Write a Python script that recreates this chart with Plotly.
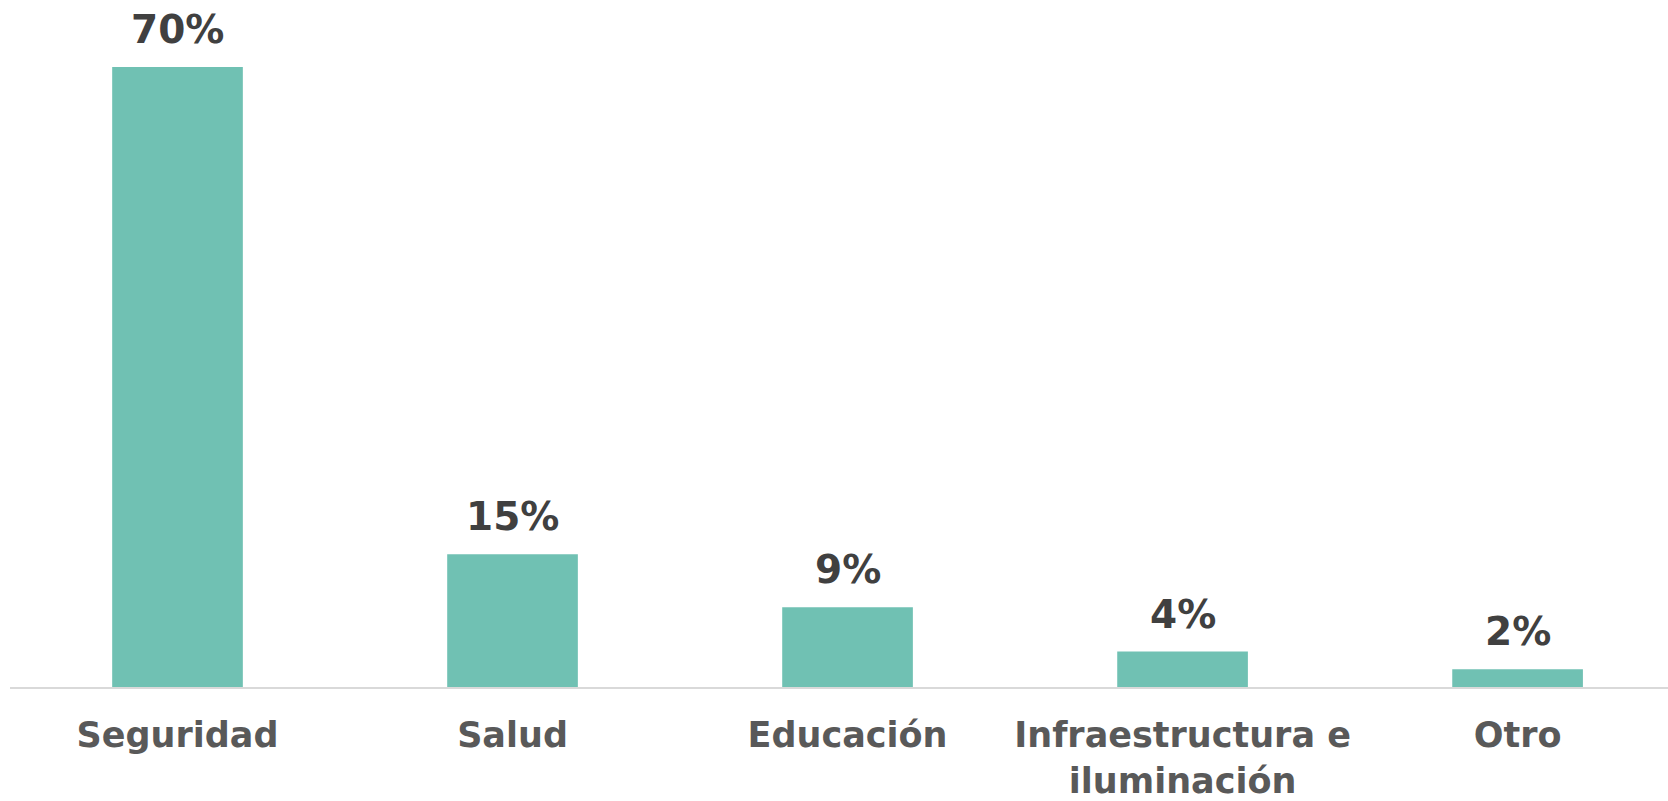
import plotly.graph_objects as go

categorias = ["Seguridad", "Salud", "Educación", "Infraestructura e<br>iluminación", "Otro"]
porcentajes = [70, 15, 9, 4, 2]
etiquetas = ["70%", "15%", "9%", "4%", "2%"]

color_barra = "#70C1B3"
fuente = "DejaVu Sans"

fig = go.Figure()

fig.add_trace(go.Bar(
    x=categorias,
    y=porcentajes,
    marker=dict(color=color_barra, line=dict(width=0)),
    hoverinfo="skip",
))

# etiquetas de valor encima de cada barra
for cat, val, txt in zip(categorias, porcentajes, etiquetas):
    fig.add_annotation(
        x=cat, y=val, text="<b>" + txt + "</b>",
        showarrow=False, yanchor="bottom", yshift=13,
        font=dict(family=fuente, size=39, color="#404040"),
    )

fig.update_layout(
    width=1668, height=801,
    margin=dict(l=10, r=0, t=20, b=112),
    plot_bgcolor="white", paper_bgcolor="white",
    bargap=0.61,
    showlegend=False,
    font=dict(family=fuente),
)

fig.update_xaxes(
    range=[-0.5, 4.449],
    showline=True, linecolor="#D9D9D9", linewidth=2,
    showgrid=False, zeroline=False,
    ticks="outside", ticklen=16, tickcolor="white",
    tickfont=dict(family=fuente, size=35, color="#595959"),
    tickvals=list(range(len(categorias))),
    ticktext=["<b>" + c + "</b>" for c in categorias],
)

fig.update_yaxes(
    range=[0, 75.3],
    visible=False, showgrid=False, zeroline=False,
)

# quitar el margen del body para que la figura ocupe toda la ventana
fig.write_html(
    "out.html",
    config={"displayModeBar": False},
    post_script="document.body.style.margin='0';document.body.style.overflow='hidden';",
)
